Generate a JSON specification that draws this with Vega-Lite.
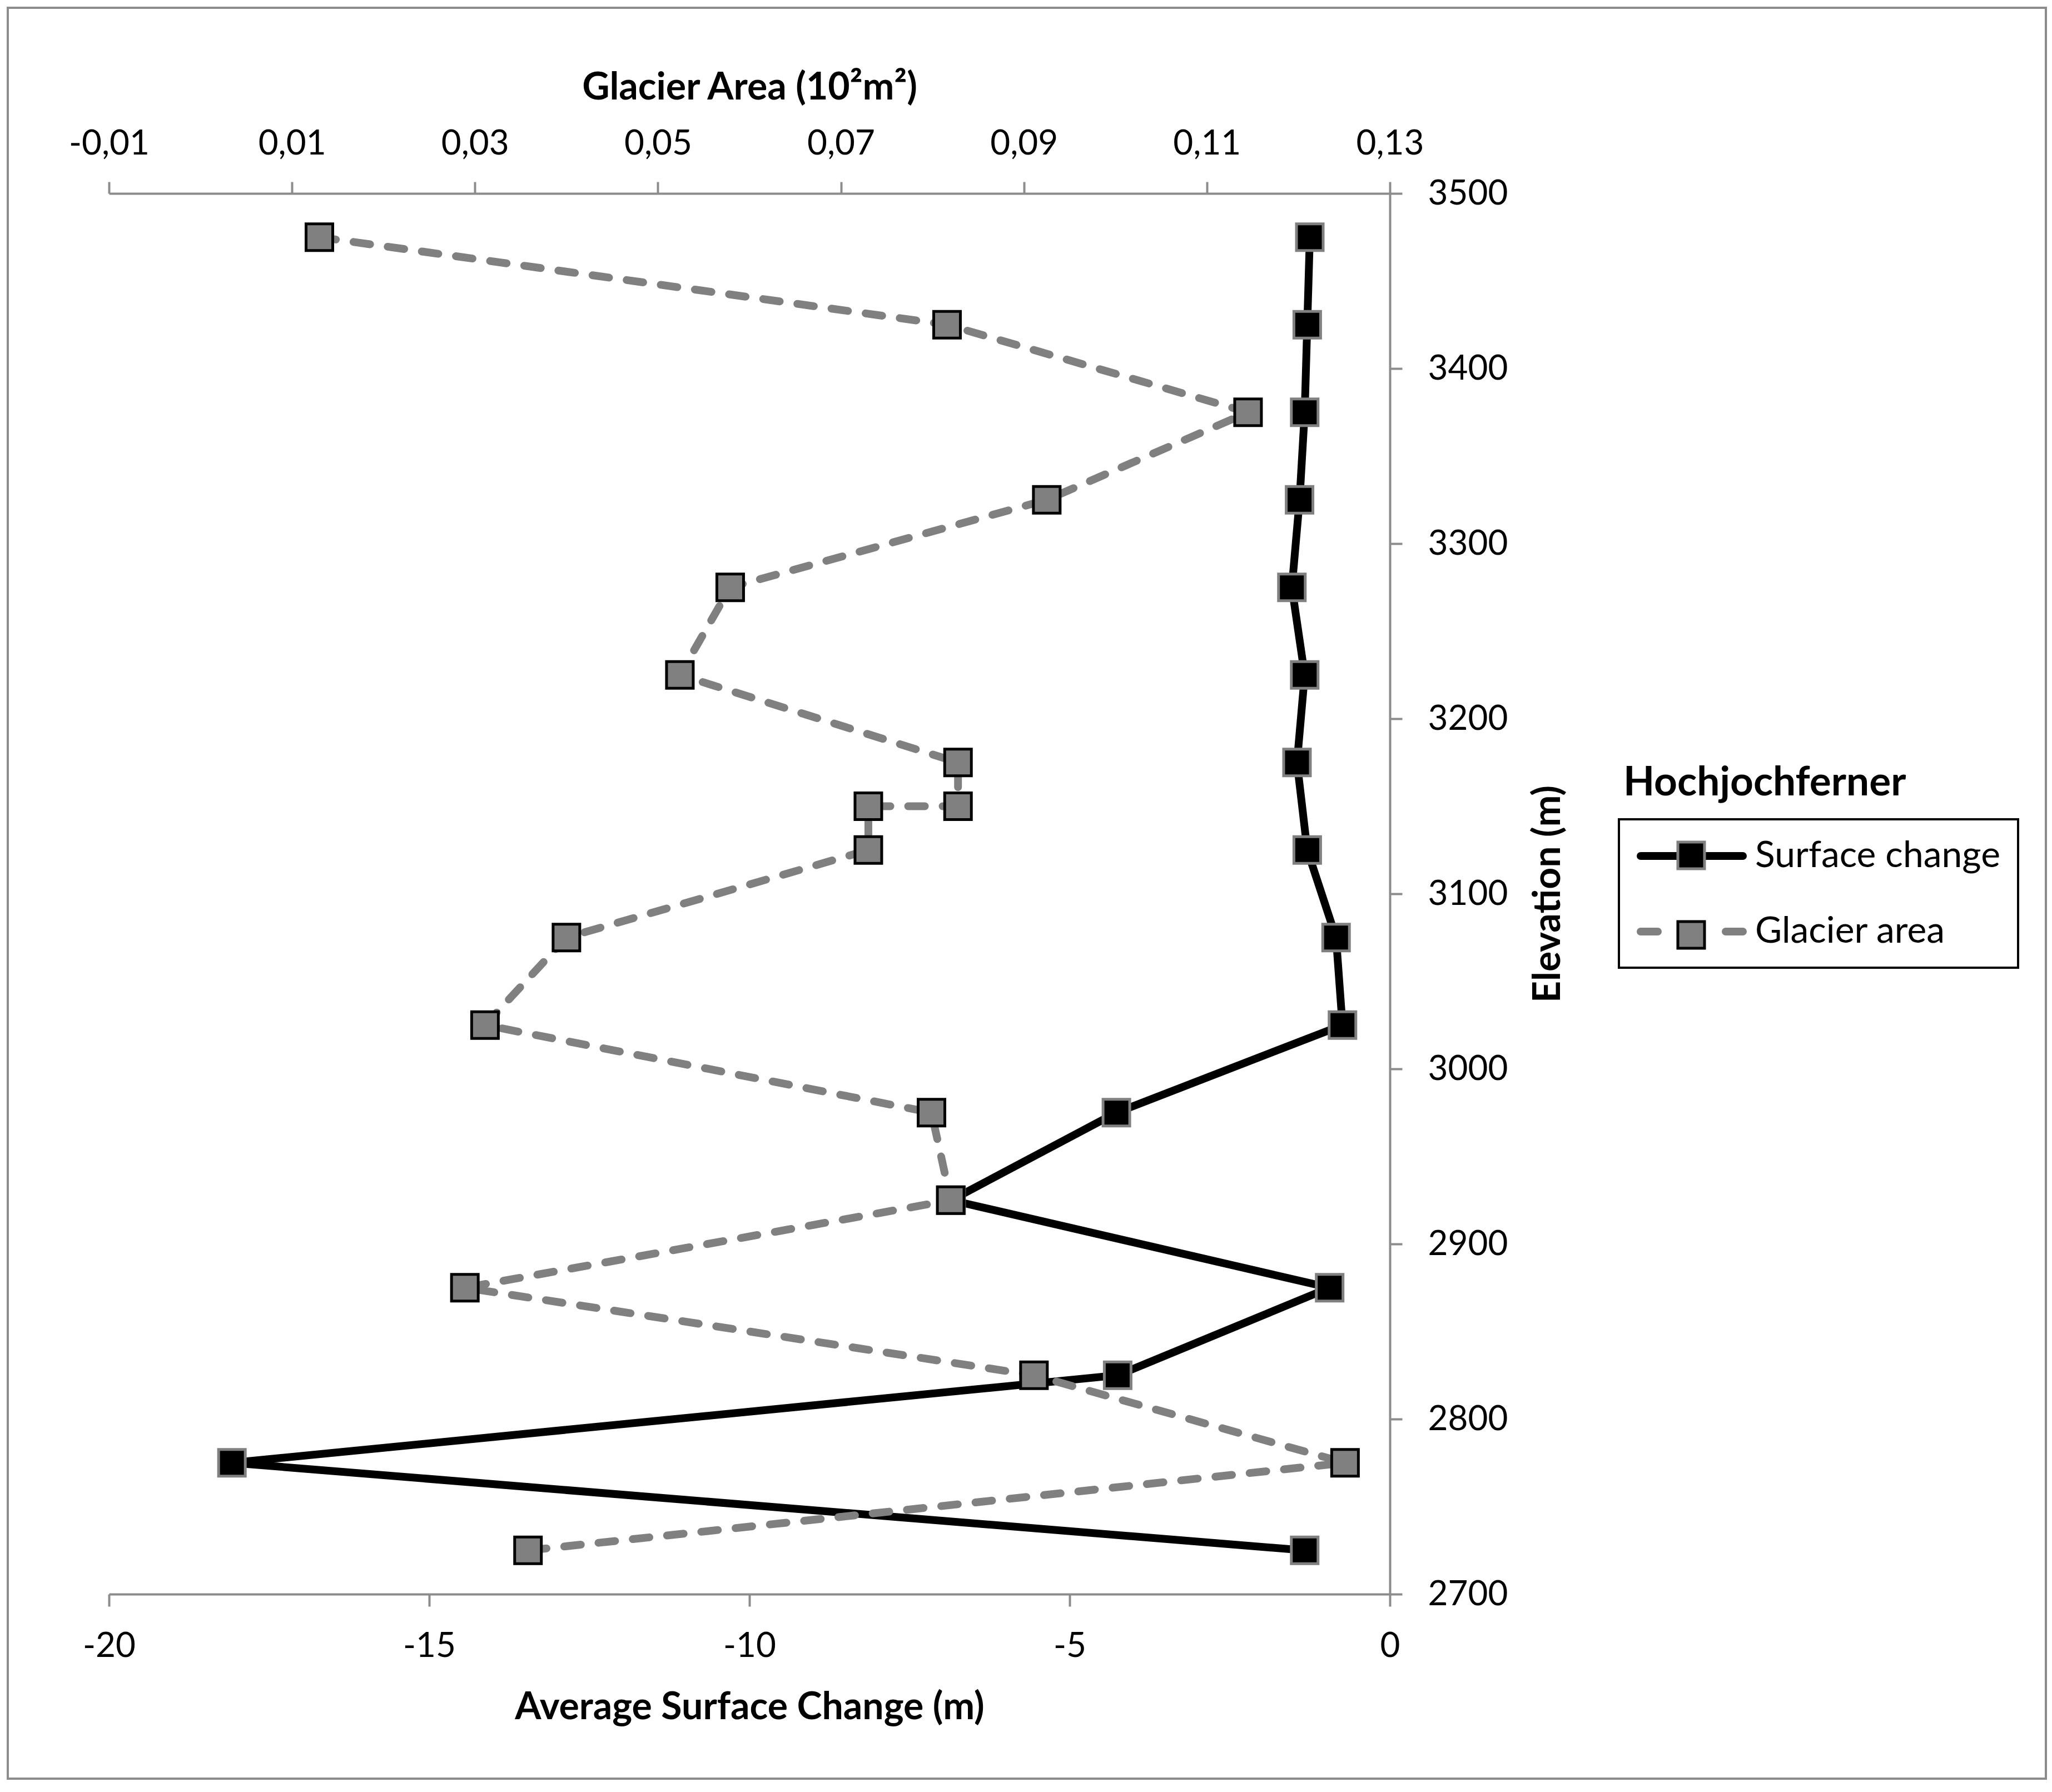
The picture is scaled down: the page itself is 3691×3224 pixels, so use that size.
{
  "$schema": "https://vega.github.io/schema/vega-lite/v6.json",
  "width": 3666,
  "height": 3186,
  "autosize": {"type": "none"},
  "padding": {"left": 14, "top": 14, "right": 11, "bottom": 24},
  "background": "white",
  "config": {
    "font": "Lato",
    "view": {"stroke": "#8c8c8c", "strokeWidth": 4},
    "axis": {
      "grid": false,
      "domainColor": "#8c8c8c",
      "tickColor": "#8c8c8c",
      "domainWidth": 4,
      "tickWidth": 4,
      "labelFont": "Lato",
      "labelFontSize": 62,
      "labelColor": "#000000",
      "titleFont": "Lato",
      "titleFontSize": 68,
      "titleFontWeight": "bold",
      "titleColor": "#000000",
      "labelFlush": false,
      "labelOverlap": false,
      "labelBound": false
    },
    "legend": {"labelFont": "Lato"}
  },
  "title": {
    "text": "Hochjochferner",
    "orient": "top",
    "anchor": "start",
    "frame": "group",
    "offset": 0,
    "dx": 2906,
    "dy": 1490,
    "fontSize": 73,
    "fontWeight": "bold",
    "font": "Lato",
    "color": "#000000",
    "baseline": "alphabetic"
  },
  "datasets": {
    "surface": [
      {"ord": 1, "elev": 3475, "surface": -1.25, "series": "Surface change"},
      {"ord": 2, "elev": 3425, "surface": -1.29, "series": "Surface change"},
      {"ord": 3, "elev": 3375, "surface": -1.33, "series": "Surface change"},
      {"ord": 4, "elev": 3325, "surface": -1.41, "series": "Surface change"},
      {"ord": 5, "elev": 3275, "surface": -1.53, "series": "Surface change"},
      {"ord": 6, "elev": 3225, "surface": -1.33, "series": "Surface change"},
      {"ord": 7, "elev": 3175, "surface": -1.45, "series": "Surface change"},
      {"ord": 8, "elev": 3125, "surface": -1.29, "series": "Surface change"},
      {"ord": 9, "elev": 3075, "surface": -0.84, "series": "Surface change"},
      {"ord": 10, "elev": 3025, "surface": -0.74, "series": "Surface change"},
      {"ord": 11, "elev": 2975, "surface": -4.27, "series": "Surface change"},
      {"ord": 12, "elev": 2925, "surface": -6.85, "series": "Surface change"},
      {"ord": 13, "elev": 2875, "surface": -0.94, "series": "Surface change"},
      {"ord": 14, "elev": 2825, "surface": -4.25, "series": "Surface change"},
      {"ord": 15, "elev": 2775, "surface": -18.08, "series": "Surface change"},
      {"ord": 16, "elev": 2725, "surface": -1.33, "series": "Surface change"}
    ],
    "glacier": [
      {"ord": 1, "elev": 3475, "area": 0.0130, "series": "Glacier area"},
      {"ord": 2, "elev": 3425, "area": 0.0816, "series": "Glacier area"},
      {"ord": 3, "elev": 3375, "area": 0.1145, "series": "Glacier area"},
      {"ord": 4, "elev": 3325, "area": 0.0925, "series": "Glacier area"},
      {"ord": 5, "elev": 3275, "area": 0.0579, "series": "Glacier area"},
      {"ord": 6, "elev": 3225, "area": 0.0524, "series": "Glacier area"},
      {"ord": 7, "elev": 3175, "area": 0.0828, "series": "Glacier area"},
      {"ord": 8, "elev": 3150, "area": 0.0828, "series": "Glacier area"},
      {"ord": 9, "elev": 3150, "area": 0.0730, "series": "Glacier area"},
      {"ord": 10, "elev": 3125, "area": 0.0730, "series": "Glacier area"},
      {"ord": 11, "elev": 3075, "area": 0.0400, "series": "Glacier area"},
      {"ord": 12, "elev": 3025, "area": 0.0311, "series": "Glacier area"},
      {"ord": 13, "elev": 2975, "area": 0.0799, "series": "Glacier area"},
      {"ord": 14, "elev": 2925, "area": 0.0820, "series": "Glacier area"},
      {"ord": 15, "elev": 2875, "area": 0.0289, "series": "Glacier area"},
      {"ord": 16, "elev": 2825, "area": 0.0911, "series": "Glacier area"},
      {"ord": 17, "elev": 2775, "area": 0.1251, "series": "Glacier area"},
      {"ord": 18, "elev": 2725, "area": 0.0358, "series": "Glacier area"}
    ]
  },
  "encoding": {
    "y": {
      "field": "elev",
      "type": "quantitative",
      "scale": {"domain": [2700, 3500], "range": [2854, 334], "nice": false, "zero": false},
      "axis": {
        "orient": "right",
        "offset": -1180,
        "values": [2700, 2800, 2900, 3000, 3100, 3200, 3300, 3400, 3500],
        "format": "d",
        "title": "Elevation (m)",
        "titleAngle": 270,
        "titleX": 305,
        "titleY": 1594,
        "titleBaseline": "alphabetic",
        "titleAlign": "center",
        "tickSize": 22,
        "labelPadding": 46,
        "labelAlign": "left",
        "labelBaseline": "middle"
      }
    }
  },
  "layer": [
    {
      "data": {"name": "surface"},
      "encoding": {
        "x": {
          "field": "surface",
          "type": "quantitative",
          "scale": {"domain": [-20, 0], "range": [182, 2486], "nice": false, "zero": false},
          "axis": {
            "orient": "bottom",
            "offset": -332,
            "values": [-20, -15, -10, -5, 0],
            "labelExpr": "replace(format(datum.value, 'd'), '\u2212', '-')",
            "title": "Average Surface Change (m)",
            "titleY": 224,
            "titleBaseline": "alphabetic",
            "tickSize": 22,
            "labelPadding": 41
          }
        }
      },
      "layer": [
        {
          "mark": {"type": "line", "strokeWidth": 14, "strokeJoin": "miter"},
          "encoding": {
            "color": {
              "field": "series",
              "type": "nominal",
              "scale": {"domain": ["Surface change", "Glacier area"], "range": ["#000000", "#808080"]},
              "legend": {
                "orient": "none",
                "legendX": 2898,
                "legendY": 1460,
                "title": null,
                "strokeColor": "#000000",
                "padding": 32,
                "symbolType": "M-1,0H5.815",
                "symbolSize": 2916,
                "symbolStrokeWidth": 14,
                "labelFontSize": 66,
                "labelOffset": 145,
                "labelLimit": 0,
                "labelColor": "#000000",
                "rowPadding": 69,
                "encode": {
                  "symbols": {
                    "update": {
                      "shape": {"signal": "datum.value === 'Glacier area' ? 'M-1,0H0.148M1.815,0H3M4.667,0H5.815' : 'M-1,0H5.815'"},
                      "strokeWidth": {"value": 14},
                      "strokeCap": {"value": "round"}
                    }
                  },
                  "legend": {"update": {"strokeWidth": {"value": 4}}}
                }
              }
            },
            "order": {"field": "ord", "type": "quantitative"}
          }
        },
        {
          "mark": {"type": "square", "size": 2304, "strokeWidth": 5, "opacity": 1, "filled": true},
          "encoding": {
            "fill": {
              "field": "series",
              "type": "nominal",
              "scale": {"domain": ["Glacier area", "Surface change"], "range": ["#808080", "#000000"]},
              "legend": {
                "orient": "none",
                "legendX": 2898,
                "legendY": 1460,
                "title": null,
                "values": ["Surface change", "Glacier area"],
                "padding": 32,
                "symbolType": "M1.518,-0.889H3.296V0.889H1.518Z",
                "symbolSize": 2916,
                "symbolStrokeWidth": 14,
                "symbolOpacity": 1,
                "labelFontSize": 66,
                "labelOffset": 145,
                "labelLimit": 0,
                "labelExpr": "''",
                "rowPadding": 73,
                "encode": {
                  "symbols": {
                    "update": {
                      "strokeWidth": {"value": 5},
                      "opacity": {"value": 1},
                      "fillOpacity": {"value": 1}
                    }
                  }
                }
              }
            },
            "stroke": {
              "field": "series",
              "type": "nominal",
              "scale": {"domain": ["Glacier area", "Surface change"], "range": ["#000000", "#808080"]}
            }
          }
        }
      ]
    },
    {
      "data": {"name": "glacier"},
      "encoding": {
        "x": {
          "field": "area",
          "type": "quantitative",
          "scale": {"domain": [-0.01, 0.13], "range": [182, 2486], "nice": false, "zero": false},
          "axis": {
            "orient": "top",
            "offset": -334,
            "values": [-0.01, 0.01, 0.03, 0.05, 0.07, 0.09, 0.11, 0.13],
            "labelExpr": "replace(replace(format(datum.value, '.2f'), '.', ','), '\u2212', '-')",
            "title": "Glacier Area (10²m²)",
            "titleY": -170,
            "titleBaseline": "alphabetic",
            "tickSize": 21,
            "labelPadding": 37
          }
        }
      },
      "layer": [
        {
          "mark": {"type": "line", "strokeWidth": 14, "strokeDash": [30, 32], "strokeCap": "round", "strokeJoin": "round"},
          "encoding": {
            "color": {
              "field": "series",
              "type": "nominal",
              "scale": {"domain": ["Surface change", "Glacier area"], "range": ["#000000", "#808080"]}
            },
            "order": {"field": "ord", "type": "quantitative"}
          }
        },
        {
          "mark": {"type": "square", "size": 2304, "strokeWidth": 5, "opacity": 1, "filled": true},
          "encoding": {
            "fill": {
              "field": "series",
              "type": "nominal",
              "scale": {"domain": ["Glacier area", "Surface change"], "range": ["#808080", "#000000"]}
            },
            "stroke": {
              "field": "series",
              "type": "nominal",
              "scale": {"domain": ["Glacier area", "Surface change"], "range": ["#000000", "#808080"]}
            }
          }
        }
      ]
    }
  ],
  "resolve": {"scale": {"x": "independent"}}
}
